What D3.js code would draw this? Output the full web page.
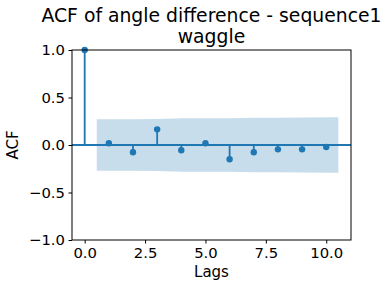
<!DOCTYPE html>
<html>
<head>
<meta charset="utf-8">
<script src="https://cdn.jsdelivr.net/npm/d3@7"></script>
<style>
  body { margin: 0; background: #fff; }
  svg { display: block; font-family: "DejaVu Sans", sans-serif; }
</style>
</head>
<body>
<div id="chart"></div>
<script>
// values
const lags = [0, 1, 2, 3, 4, 5, 6, 7, 8, 9, 10];
const acfValues = [1.0, 0.018, -0.077, 0.165, -0.056, 0.018, -0.15, -0.077, -0.046, -0.046, -0.021];
// half-width of the confidence band at each lag (lag 0 has none)
const bandLags = [0.5, 2, 3, 4, 5, 6, 7, 8, 9, 10.5];
const bandHalf = [0.272, 0.272, 0.274, 0.281, 0.281, 0.281, 0.287, 0.288, 0.289, 0.292];
const xTicks = [0, 2.5, 5, 7.5, 10];
const yTicks = [-1, -0.5, 0, 0.5, 1];
const titleLines = ["ACF of angle difference - sequence1", "waggle"];

const svgWidth = 390, svgHeight = 288;
const margin = { top: 50, right: 39, bottom: 48, left: 72 };
const width = svgWidth - margin.left - margin.right;
const height = svgHeight - margin.top - margin.bottom;
const blue = "#1f77b4";

const svg = d3.select("#chart")
  .append("svg")
  .attr("width", svgWidth)
  .attr("height", svgHeight);

const g = svg.append("g")
  .attr("transform", `translate(${margin.left},${margin.top})`);

const x = d3.scaleLinear()
  .domain([-0.525, 11.025])
  .range([0, width]);

const y = d3.scaleLinear()
  .domain([-1, 1])
  .range([height, 0]);

// confidence band
const band = bandLags.map((l, i) => ({ lag: l, h: bandHalf[i] }));
g.append("path")
  .datum(band)
  .attr("fill", blue)
  .attr("fill-opacity", 0.25)
  .attr("d", d3.area()
    .x(d => x(d.lag))
    .y0(d => y(-d.h))
    .y1(d => y(d.h)));

// zero line across the axes
g.append("line")
  .attr("x1", 0).attr("x2", width)
  .attr("y1", y(0)).attr("y2", y(0))
  .attr("stroke", blue)
  .attr("stroke-width", 1.8);

const pts = lags.map((l, i) => ({ lag: l, v: acfValues[i] }));

// stems
g.selectAll(".stem")
  .data(pts)
  .join("line")
  .attr("class", "stem")
  .attr("x1", d => x(d.lag)).attr("x2", d => x(d.lag))
  .attr("y1", y(0)).attr("y2", d => y(d.v))
  .attr("stroke", blue)
  .attr("stroke-width", 1.8);

// markers
g.selectAll(".dot")
  .data(pts)
  .join("circle")
  .attr("class", "dot")
  .attr("cx", d => x(d.lag))
  .attr("cy", d => y(d.v))
  .attr("r", 3.2)
  .attr("fill", blue);

// axes
const xAxisG = g.append("g")
  .attr("transform", `translate(0,${height})`)
  .call(d3.axisBottom(x).tickValues(xTicks).tickFormat(d3.format(".1f")).tickSize(3.5).tickPadding(3.5));

const yAxisG = g.append("g")
  .call(d3.axisLeft(y).tickValues(yTicks).tickFormat(d3.format(".1f")).tickSize(3.5).tickPadding(3.5));

[xAxisG, yAxisG].forEach(a => {
  a.select(".domain").remove();
  a.selectAll("text")
    .style("font-size", "14.8px")
    .style("font-family", "DejaVu Sans")
    .attr("fill", "#000");
  a.selectAll(".tick line").attr("stroke", "#000");
});

// frame
g.append("rect")
  .attr("width", width)
  .attr("height", height)
  .attr("fill", "none")
  .attr("stroke", "#000")
  .attr("stroke-width", 1);

// labels
svg.append("text")
  .attr("x", margin.left + width / 2)
  .attr("y", 277)
  .attr("text-anchor", "middle")
  .style("font-size", "15px")
  .text("Lags");

svg.append("text")
  .attr("transform", `translate(18,${margin.top + height / 2}) rotate(-90)`)
  .attr("text-anchor", "middle")
  .style("font-size", "15px")
  .text("ACF");

titleLines.forEach((t, i) => {
  svg.append("text")
    .attr("x", margin.left + width / 2)
    .attr("y", 22 + i * 21)
    .attr("text-anchor", "middle")
    .style("font-size", "18.8px")
    .text(t);
});
</script>
</body>
</html>
